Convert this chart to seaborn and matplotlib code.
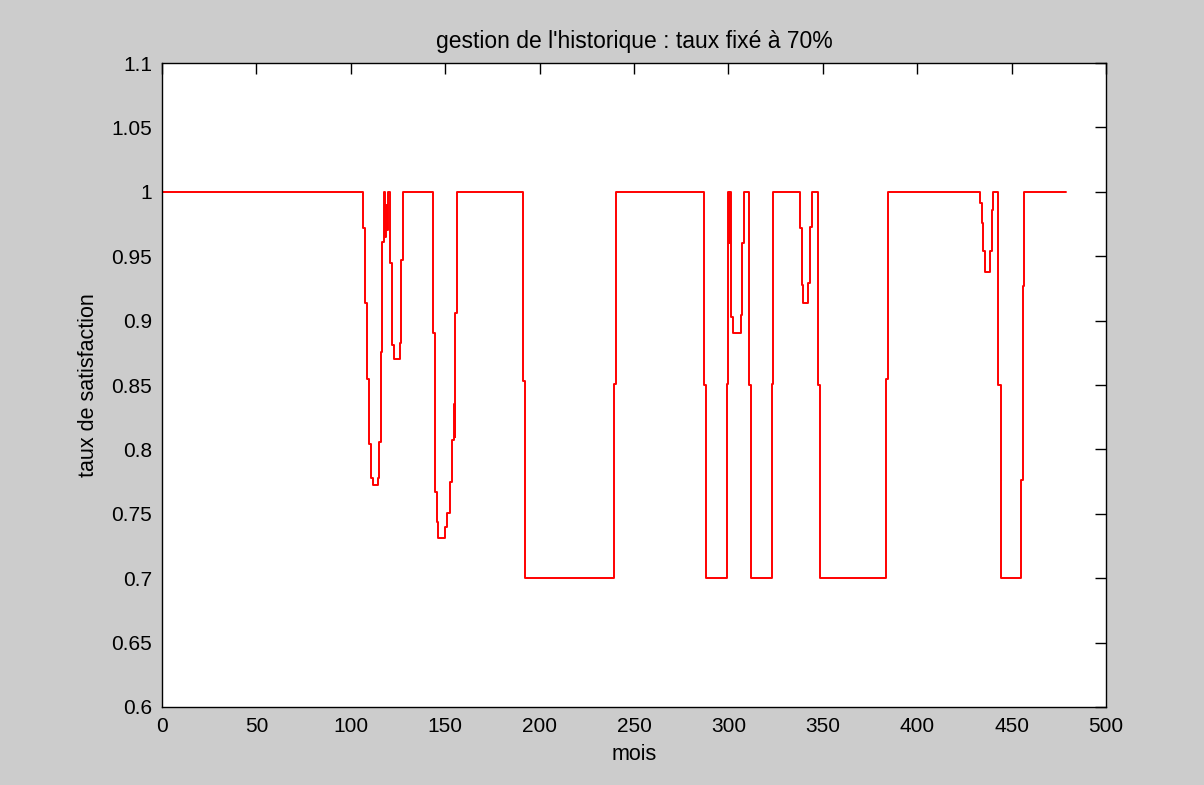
import matplotlib
matplotlib.use("Agg")
import matplotlib.pyplot as plt
import seaborn as sns
import pandas as pd
from matplotlib.ticker import FuncFormatter, MultipleLocator

# Months at which the satisfaction rate changes, and the new rate from that month on
mois = [
    0, 106.6, 107.7, 108.8, 109.8, 110.9, 111.6, 114.4, 115.1, 115.8, 116.6,
    117.4, 118.0, 118.6, 119.2, 119.8, 121.0, 121.8, 122.6, 126.0, 126.8, 127.6,
    143.7, 144.6, 145.5, 146.4, 149.9, 150.8, 152.5, 153.8, 154.6, 155.0, 155.4, 156.2,
    191.2, 192.2, 239.6, 240.5,
    287.3, 288.1, 299.1, 300.0, 300.4, 300.8, 301.2, 301.6, 302.4, 306.5, 307.4, 308.3,
    311.1, 312.0, 322.9, 323.8,
    337.9, 338.8, 339.7, 342.3, 343.2, 344.1,
    347.6, 348.7, 383.7, 384.6,
    433.3, 434.2, 435.0, 435.9, 438.6, 439.4, 440.3,
    443.0, 444.2, 454.8, 455.9, 456.7, 479.0,
]
taux = [
    1.0, 0.972, 0.914, 0.855, 0.804, 0.778, 0.772, 0.778, 0.806, 0.876, 0.961,
    1.0, 0.965, 0.99, 0.97, 1.0, 0.945, 0.881, 0.870, 0.8825, 0.947, 1.0,
    0.890, 0.767, 0.744, 0.731, 0.740, 0.7505, 0.775, 0.8075, 0.835, 0.81, 0.906, 1.0,
    0.853, 0.70, 0.851, 1.0,
    0.850, 0.70, 0.851, 1.0, 0.96, 1.0, 0.959, 0.903, 0.890, 0.9045, 0.960, 1.0,
    0.850, 0.70, 0.851, 1.0,
    0.972, 0.928, 0.9136, 0.929, 0.973, 1.0,
    0.850, 0.70, 0.855, 1.0,
    0.9917, 0.976, 0.9537, 0.9374, 0.9537, 0.986, 1.0,
    0.850, 0.70, 0.7764, 0.9265, 1.0, 1.0,
]

titre = "gestion de l'historique : taux fixé à 70%"
label_x = "mois"
label_y = "taux de satisfaction"

sns.set_style("white")
plt.rcParams["font.family"] = ["Liberation Sans", "DejaVu Sans"]

df = pd.DataFrame({"mois": mois, "taux": taux})

fig = plt.figure(figsize=(12.04, 7.85), dpi=100, facecolor="#cccccc")
ax = fig.add_axes([0.1346, 0.0994, 0.9186 - 0.1346, 0.9197 - 0.0994])
ax.set_facecolor("white")

sns.lineplot(data=df, x="mois", y="taux", ax=ax, color="#ff0000", linewidth=1.4,
             estimator=None, sort=False, drawstyle="steps-post")

ax.set_xlim(0, 500)
ax.set_ylim(0.6, 1.1)
ax.xaxis.set_major_locator(MultipleLocator(50))
ax.yaxis.set_major_locator(MultipleLocator(0.05))
ax.yaxis.set_major_formatter(FuncFormatter(lambda v, p: f"{v:.2f}".rstrip("0").rstrip(".")))

for s in ax.spines.values():
    s.set_visible(True)
    s.set_color("black")
    s.set_linewidth(1.0)

ax.tick_params(direction="in", top=True, right=True, length=8, width=1,
               colors="black", labelsize=15, pad=7)
ax.tick_params(axis="x", pad=7)

ax.set_title(titre, fontsize=16.5, pad=11, color="black")
ax.set_xlabel(label_x, fontsize=15.5, labelpad=6, color="black")
ax.set_ylabel(label_y, fontsize=15.5, labelpad=9, color="black")

fig.savefig("out.png", dpi=100, facecolor=fig.get_facecolor())
